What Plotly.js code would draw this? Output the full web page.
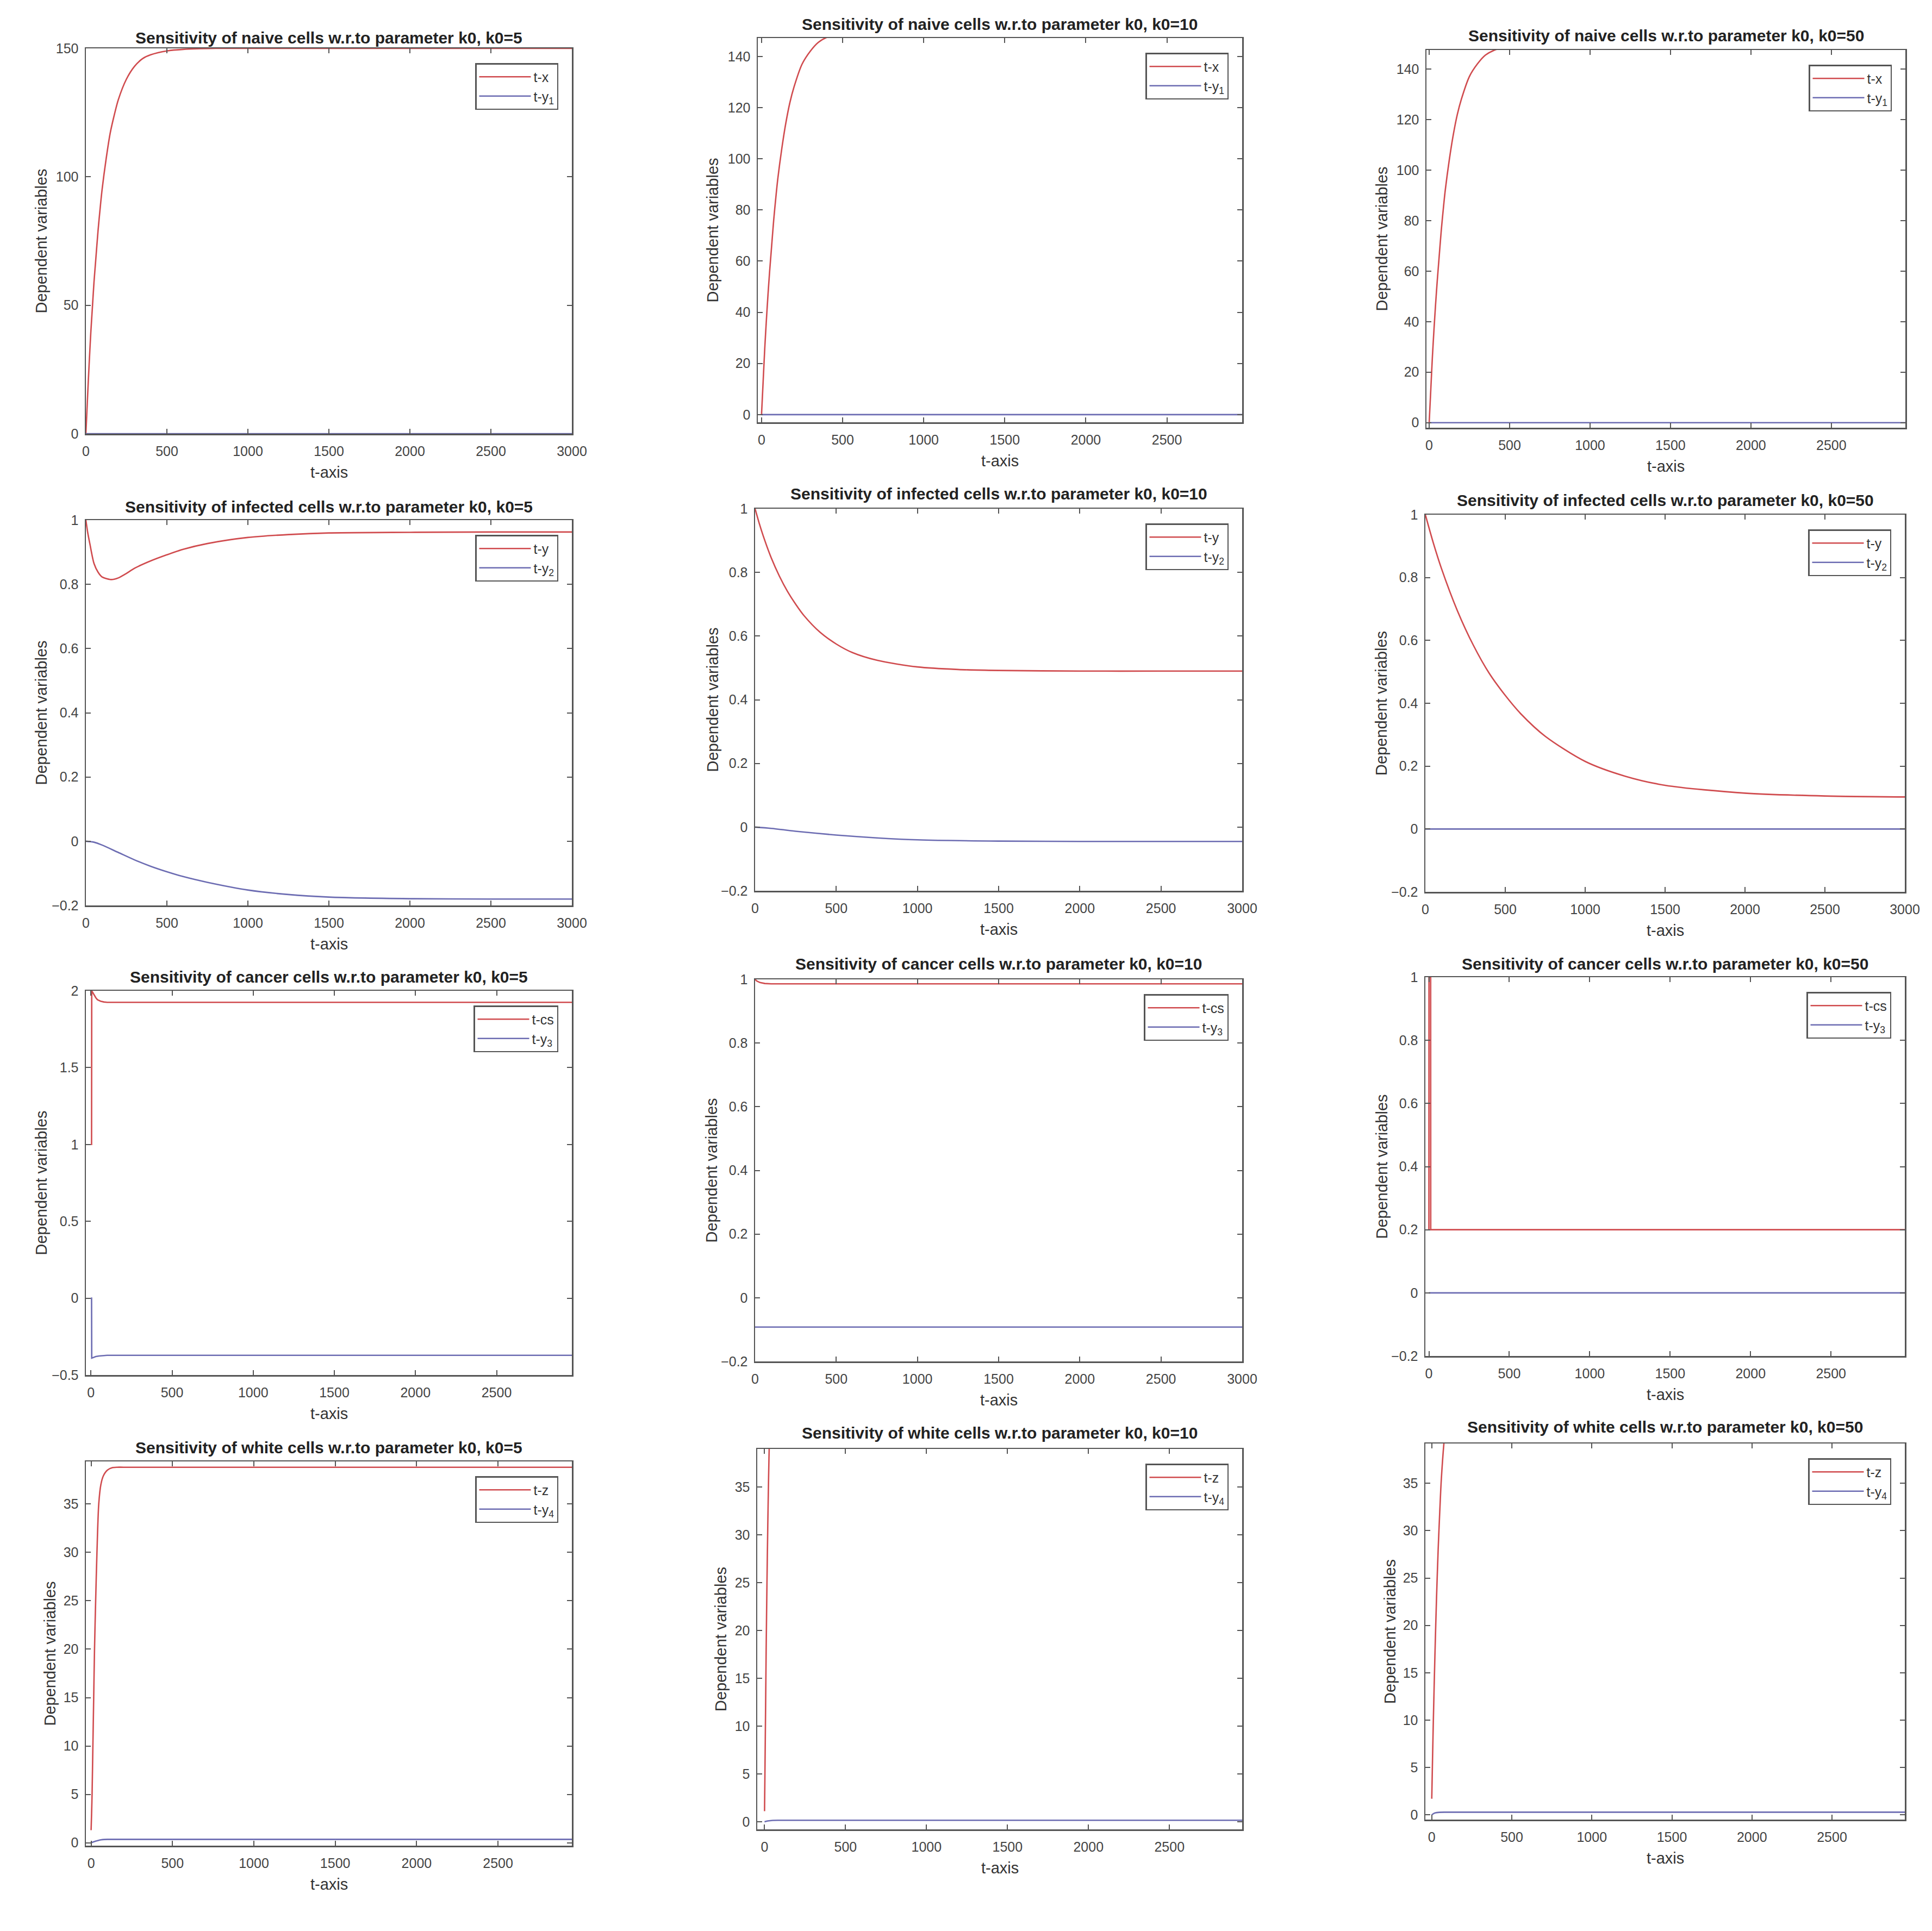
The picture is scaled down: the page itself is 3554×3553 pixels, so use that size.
<!DOCTYPE html>
<html><head><meta charset="utf-8">
<script src="https://cdn.plot.ly/plotly-3.0.1.min.js"></script>
<style>html,body{margin:0;padding:0;background:#fff}</style>
</head><body>
<div id="chart" style="width:3554px;height:3553px"></div>
<script>
// ---------------- DATA ----------------
const titles = [
  "Sensitivity of naive cells w.r.to parameter k0, k0=5",
  "Sensitivity of naive cells w.r.to parameter k0, k0=10",
  "Sensitivity of naive cells w.r.to parameter k0, k0=50",
  "Sensitivity of infected cells w.r.to parameter k0, k0=5",
  "Sensitivity of infected cells w.r.to parameter k0, k0=10",
  "Sensitivity of infected cells w.r.to parameter k0, k0=50",
  "Sensitivity of cancer cells w.r.to parameter k0, k0=5",
  "Sensitivity of cancer cells w.r.to parameter k0, k0=10",
  "Sensitivity of cancer cells w.r.to parameter k0, k0=50",
  "Sensitivity of white cells w.r.to parameter k0, k0=5",
  "Sensitivity of white cells w.r.to parameter k0, k0=10",
  "Sensitivity of white cells w.r.to parameter k0, k0=50"
];
const legendNames = [
  ["t-x", "t-y<sub>1</sub>"],
  ["t-y", "t-y<sub>2</sub>"],
  ["t-cs", "t-y<sub>3</sub>"],
  ["t-z", "t-y<sub>4</sub>"]
];
const xLabel = "t-axis";
const yLabel = "Dependent variables";

// Row 1: naive cells
const tNaive = [0,10,20,30,40,50,60,75,90,100,125,150,175,200,250,300,350,400,500,600,800,1000,1500,2000,3000];
const xNaive5  = [0,14,27,39,49,59,67,79,89,95,107,117,124,130,138,143,146,147.5,149,149.6,150,150,150,150,150];
const xNaive10 = [0,13,26,37,47,56,64,76,86,92,104,114,122,128,137,142,145.5,147.4,149.2,149.8,150,150,150,150,150];
const xNaive50 = [0,13,26,37,47,56,64,76,86,92,104,114,122,128,137,142,145.5,147.3,149.1,149.7,150,150,150,150,150];
const tFlat = [0,3000];
const y1Naive5 = [0,0];
const y1Naive10 = [0,0];
const y1Naive50 = [0,0];

// Row 2: infected cells
const tInf5 = [0,10,25,50,75,100,150,175,200,250,300,400,500,600,750,1000,1250,1500,2000,2500,3000];
const yInf5 = [1,0.965,0.925,0.865,0.838,0.823,0.815,0.816,0.82,0.834,0.85,0.873,0.892,0.909,0.927,0.946,0.955,0.96,0.962,0.963,0.963];
const tInf5b = [0,50,100,200,300,400,500,600,750,1000,1250,1500,2000,2500,3000];
const y2Inf5 = [0,-0.003,-0.012,-0.035,-0.058,-0.078,-0.095,-0.11,-0.128,-0.152,-0.166,-0.174,-0.179,-0.18,-0.18];
const tInf10 = [0,25,50,100,150,200,250,300,400,500,600,750,1000,1250,1500,2000,2500,3000];
const yInf10 = [1,0.955,0.915,0.845,0.788,0.74,0.7,0.665,0.612,0.575,0.548,0.524,0.503,0.495,0.492,0.49,0.49,0.49];
const tInf10b = [0,100,250,500,750,1000,1500,2000,3000];
const y2Inf10 = [0,-0.004,-0.013,-0.025,-0.034,-0.04,-0.044,-0.045,-0.045];
const tInf50 = [0,50,100,200,300,400,500,600,750,1000,1250,1500,2000,2500,3000];
const yInf50 = [1,0.91,0.83,0.695,0.585,0.495,0.425,0.365,0.295,0.215,0.168,0.139,0.114,0.105,0.102];
const y2Inf50 = [0,0];

// Row 3: cancer cells
const tCan5 = [0,4,5,10,20,30,40,60,80,100,150,3000];
const csCan5 = [1,1,2,1.99,1.97,1.955,1.942,1.932,1.927,1.925,1.925,1.925];
const tCan5b = [0,4,5,10,20,30,50,80,100,3000];
const y3Can5 = [0,0,-0.39,-0.388,-0.384,-0.38,-0.376,-0.373,-0.372,-0.372];
const tCan10 = [0,10,30,60,100,3000];
const csCan10 = [1,0.995,0.99,0.987,0.986,0.986];
const y3Can10 = [-0.092,-0.092];
const tCan50 = [0,0.5,11,11.5,3000];
const csCan50 = [0.2,1,1,0.2,0.2];
const y3Can50 = [0,0];

// Row 4: white cells
const tWh5 = [0,3,6,11,16,21,28,36,47,60,75,100,130,160,200,3000];
const zWh5 = [1.3,3,5,10,15,20,25,30,35,37,37.9,38.5,38.75,38.8,38.8,38.8];
const tWh5b = [0,20,40,60,80,100,3000];
const y4Wh5 = [0,0.12,0.22,0.3,0.34,0.35,0.35];
const tWh10 = [0,3,6,10,15,20,25,30,40,60,100,3000];
const zWh10 = [1.1,6,11,18,25,31,36,40,45,50,52,52];
const tWh10b = [0,20,50,100,3000];
const y4Wh10 = [0,0.08,0.14,0.15,0.15];
const tWh50 = [0,5,10,20,30,40,50,60,80,100,150,3000];
const zWh50 = [1.7,6,10,17,23,28,32,35.5,40,43,46,47];
const tWh50b = [0,20,50,100,3000];
const y4Wh50 = [0,0.2,0.27,0.28,0.28];

// ---------------- PANELS (data refs + layout geometry) ----------------
const series = [
  [tNaive,xNaive5, tFlat,y1Naive5],
  [tNaive,xNaive10,tFlat,y1Naive10],
  [tNaive,xNaive50,tFlat,y1Naive50],
  [tInf5,yInf5,  tInf5b,y2Inf5],
  [tInf10,yInf10,tInf10b,y2Inf10],
  [tInf50,yInf50,tFlat,y2Inf50],
  [tCan5,csCan5, tCan5b,y3Can5],
  [tCan10,csCan10,tFlat,y3Can10],
  [tCan50,csCan50,tFlat,y3Can50],
  [tWh5,zWh5,  tWh5b,y4Wh5],
  [tWh10,zWh10,tWh10b,y4Wh10],
  [tWh50,zWh50,tWh50b,y4Wh50]
];
// [left,right,top,bottom] px, x range, y range, y dtick, title center y, ytitle center x
const geom = [
  {b:[158,1052,89,798],   xr:[0,3000],    yr:[0,150],      dy:50,  ty:70,   yx:75},
  {b:[1394,2285,70,777],  xr:[-23,2964],  yr:[-3,147.2],   dy:20,  ty:45,   yx:1310},
  {b:[2624,3505,92,787],  xr:[-17,2960],  yr:[-2,147.5],   dy:20,  ty:66,   yx:2541},
  {b:[158,1052,957,1666], xr:[0,3000],    yr:[-0.2,1],     dy:0.2, ty:932,  yx:75},
  {b:[1389,2285,936,1639],xr:[0,3000],    yr:[-0.2,1],     dy:0.2, ty:909,  yx:1310},
  {b:[2622,3504,947,1641],xr:[0,3000],    yr:[-0.2,1],     dy:0.2, ty:920,  yx:2541},
  {b:[158,1052,1823,2530],xr:[-31,2964],  yr:[-0.5,2],     dy:0.5, ty:1797, yx:75},
  {b:[1389,2285,1802,2505],xr:[0,3000],   yr:[-0.2,1],     dy:0.2, ty:1773, yx:1308},
  {b:[2622,3504,1798,2495],xr:[-22,2959], yr:[-0.2,1],     dy:0.2, ty:1773, yx:2541},
  {b:[158,1052,2689,3396],xr:[-32,2954],  yr:[-0.3,39.4],  dy:5,   ty:2663, yx:91},
  {b:[1393,2285,2666,3366],xr:[-45,2949], yr:[-0.8,39],    dy:5,   ty:2636, yx:1326},
  {b:[2622,3504,2656,3348],xr:[-40,2955], yr:[-0.5,39.2],  dy:5,   ty:2625, yx:2557}
];
const smoothRows = [true, true, false, true];

const W = 3554, H = 3553;
const RED = '#d04b4e', BLUE = '#6c6cb2';
const AX = '#555555', TXT = '#333333';
const FONT = 'Liberation Sans, Arial, Helvetica, sans-serif';

const traces = [];
const layout = {
  width: W, height: H, margin: {l:0,r:0,t:0,b:0},
  paper_bgcolor: '#ffffff', plot_bgcolor: '#ffffff',
  font: {family: FONT, color: TXT, size: 25},
  showlegend: true,
  annotations: []
};

geom.forEach((g, i) => {
  const k = i + 1;
  const xa = 'xaxis' + (k === 1 ? '' : k), ya = 'yaxis' + (k === 1 ? '' : k);
  const xr = 'x' + (k === 1 ? '' : k), yr = 'y' + (k === 1 ? '' : k);
  const lg = 'legend' + (k === 1 ? '' : k);
  const [L, R, T, B] = g.b;
  const row = Math.floor(i / 3);
  const s = series[i];
  const shape = smoothRows[row] ? 'spline' : 'linear';
  traces.push({x: s[0], y: s[1], type: 'scatter', mode: 'lines', name: legendNames[row][0],
    line: {color: RED, width: 2.6, shape: shape, smoothing: 0.8}, xaxis: xr, yaxis: yr, legend: lg});
  traces.push({x: s[2], y: s[3], type: 'scatter', mode: 'lines', name: legendNames[row][1],
    line: {color: BLUE, width: 2.6, shape: shape, smoothing: 0.8}, xaxis: xr, yaxis: yr, legend: lg});
  const common = {showline: true, linecolor: AX, linewidth: 2.5, mirror: 'ticks',
    ticks: 'inside', ticklen: 9, tickwidth: 2, tickcolor: AX,
    showgrid: false, zeroline: false, fixedrange: true,
    tickfont: {family: FONT, size: 25, color: '#444444'}};
  layout[xa] = Object.assign({}, common, {domain: [L / W, R / W], anchor: yr,
    range: g.xr, tick0: 0, dtick: 500, ticklabelstandoff: 8});
  layout[ya] = Object.assign({}, common, {domain: [1 - B / H, 1 - T / H], anchor: xr,
    range: g.yr, tick0: 0, dtick: g.dy, ticklabelstandoff: 6});
  layout[lg] = {x: (R - 25) / W, y: 1 - (T + 27) / H, xanchor: 'right', yanchor: 'top',
    xref: 'paper', yref: 'paper', bgcolor: '#ffffff', bordercolor: AX, borderwidth: 2.5,
    font: {family: FONT, size: 25, color: TXT}, itemwidth: 95, tracegroupgap: 0};
  layout.annotations.push({xref: 'paper', yref: 'paper', x: (L + R) / 2 / W, y: 1 - g.ty / H,
    xanchor: 'center', yanchor: 'middle', showarrow: false, text: '<b>' + titles[i] + '</b>',
    font: {family: FONT, size: 30, color: '#222222'}});
  layout.annotations.push({xref: 'paper', yref: 'paper', x: (L + R) / 2 / W, y: 1 - (B + 71) / H,
    xanchor: 'center', yanchor: 'middle', showarrow: false, text: xLabel,
    font: {family: FONT, size: 29, color: TXT}});
  layout.annotations.push({xref: 'paper', yref: 'paper', x: g.yx / W, y: 1 - (T + B) / 2 / H,
    xanchor: 'center', yanchor: 'middle', showarrow: false, text: yLabel, textangle: -90,
    font: {family: FONT, size: 29, color: TXT}});
});

Plotly.newPlot('chart', traces, layout, {staticPlot: true, displayModeBar: false});
</script>
</body></html>
